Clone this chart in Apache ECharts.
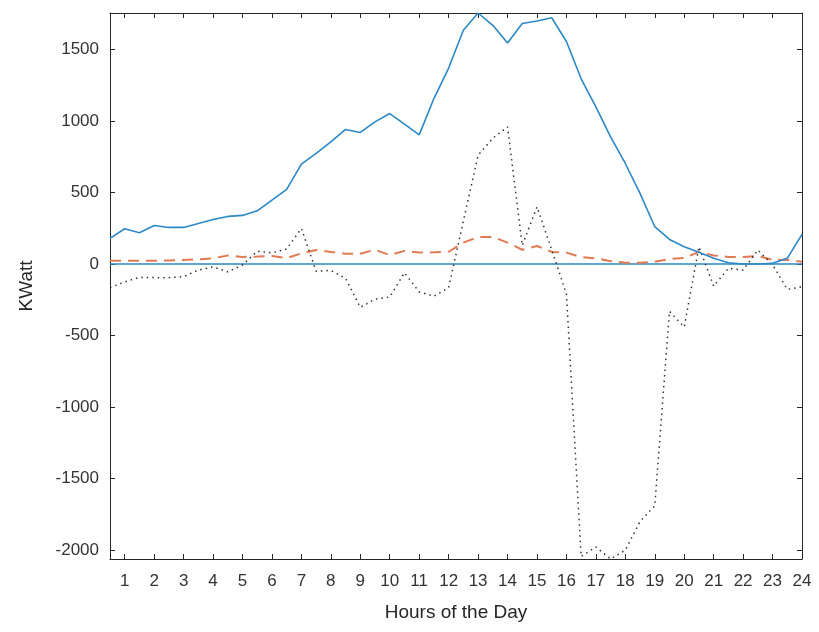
<!DOCTYPE html>
<html>
<head>
<meta charset="utf-8">
<script src="https://cdn.jsdelivr.net/npm/echarts@6/dist/echarts.min.js"></script>
<style>
html,body{margin:0;padding:0;background:#fff;}
#chart{width:819px;height:632px;}
</style>
</head>
<body>
<div id="chart"></div>
<script>
// Hours of the day (half-hour steps)
var hours = [0.5,1,1.5,2,2.5,3,3.5,4,4.5,5,5.5,6,6.5,7,7.5,8,8.5,9,9.5,10,10.5,11,11.5,12,
             12.5,13,13.5,14,14.5,15,15.5,16,16.5,17,17.5,18,18.5,19,19.5,20,20.5,21,21.5,22,22.5,23,23.5,24];
// Solid blue series
var seriesSolid = [179,247,219,270,256,256,284,312,333,340,372,447,522,698,773,854,941,920,994,1052,978,903,1157,1370,
                   1635,1755,1669,1545,1681,1699,1722,1556,1295,1099,889,703,494,261,172,121,82,40,9,0,0,5,40,207];
// Dashed orange series
var seriesDashed = [23,23,23,23,25,28,33,40,60,50,52,56,42,75,98,85,72,72,100,62,92,80,82,86,
                    150,188,190,150,100,126,85,80,48,40,20,9,9,16,35,42,85,60,50,50,56,30,28,16];
// Dotted black series
var seriesDotted = [-165,-125,-93,-95,-95,-88,-42,-20,-55,-7,90,78,105,249,-50,-45,-100,-303,-245,-230,-61,-195,-225,-165,
                    300,760,880,959,130,400,100,-210,-2045,-1978,-2062,-2000,-1800,-1690,-330,-440,121,-155,-30,-42,98,-5,-177,-160];
// Zero reference line
var seriesZero = hours.map(function(){ return 0; });

var xTicks = [1,2,3,4,5,6,7,8,9,10,11,12,13,14,15,16,17,18,19,20,21,22,23,24];
var yTicks = [-2000,-1500,-1000,-500,0,500,1000,1500];
var xMin = 0.5, xMax = 24, yMin = -2062, yMax = 1755;

function pairs(ys){ return hours.map(function(h,i){ return [h, ys[i]]; }); }
function plain(v){ return String(v); }

var axisColor = '#262626';
var font = 'Liberation Sans, Arial, Helvetica, sans-serif';

var chart = echarts.init(document.getElementById('chart'));
chart.setOption({
  animation: false,
  backgroundColor: '#ffffff',
  grid: { left: 110, right: 17, top: 13, bottom: 73, containLabel: false },
  xAxis: [{
    type: 'value', min: xMin, max: xMax, position: 'bottom',
    name: 'Hours of the Day', nameLocation: 'middle', nameGap: 44,
    nameTextStyle: { fontSize: 19, color: axisColor, fontFamily: font },
    axisLine: { show: true, onZero: false, lineStyle: { color: axisColor, width: 1 } },
    axisTick: { show: true, inside: true, length: 5, customValues: xTicks, lineStyle: { color: axisColor } },
    axisLabel: { show: true, customValues: xTicks, formatter: plain, fontSize: 17, color: '#333333', fontFamily: font, margin: 14 },
    splitLine: { show: false }
  }, {
    type: 'value', min: xMin, max: xMax, position: 'top',
    axisLine: { show: true, onZero: false, lineStyle: { color: axisColor, width: 1 } },
    axisTick: { show: true, inside: true, length: 5, customValues: xTicks, lineStyle: { color: axisColor } },
    axisLabel: { show: false },
    splitLine: { show: false }
  }],
  yAxis: [{
    type: 'value', min: yMin, max: yMax, position: 'left',
    name: 'KWatt', nameLocation: 'middle', nameGap: 74,
    nameTextStyle: { fontSize: 19, color: axisColor, fontFamily: font },
    axisLine: { show: true, onZero: false, lineStyle: { color: axisColor, width: 1 } },
    axisTick: { show: true, inside: true, length: 5, customValues: yTicks, lineStyle: { color: axisColor } },
    axisLabel: { show: true, customValues: yTicks, formatter: plain, fontSize: 17, color: '#333333', fontFamily: font, margin: 11 },
    splitLine: { show: false }
  }, {
    type: 'value', min: yMin, max: yMax, position: 'right',
    axisLine: { show: true, onZero: false, lineStyle: { color: axisColor, width: 1 } },
    axisTick: { show: true, inside: true, length: 5, customValues: yTicks, lineStyle: { color: axisColor } },
    axisLabel: { show: false },
    splitLine: { show: false }
  }],
  series: [{
    type: 'line', xAxisIndex: 0, yAxisIndex: 0, data: pairs(seriesZero),
    showSymbol: false, silent: true,
    lineStyle: { color: '#2a88c8', width: 1.6, type: 'solid' }
  }, {
    type: 'line', xAxisIndex: 0, yAxisIndex: 0, data: pairs(seriesDashed),
    showSymbol: false,
    lineStyle: { color: '#e07a52', width: 2, type: [11, 7] }
  }, {
    type: 'line', xAxisIndex: 0, yAxisIndex: 0, data: pairs(seriesDotted),
    showSymbol: false,
    lineStyle: { color: '#333333', width: 1.5, type: [1.5, 4] }
  }, {
    type: 'line', xAxisIndex: 0, yAxisIndex: 0, data: pairs(seriesSolid),
    showSymbol: false,
    lineStyle: { color: '#2a88c8', width: 1.6, type: 'solid' }
  }]
});
</script>
</body>
</html>
